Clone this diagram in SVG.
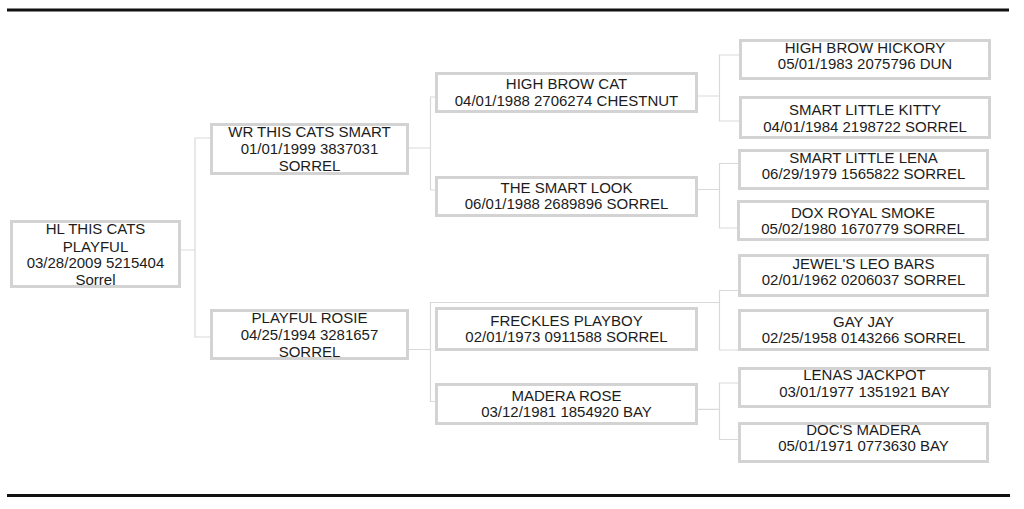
<svg xmlns="http://www.w3.org/2000/svg" width="1024" height="509" viewBox="0 0 1024 509">
<style>
.box{fill:#fff;stroke:#d3d3d3;stroke-width:3}
.t{font-family:"Liberation Sans",Arial,sans-serif;font-size:15px;fill:#1c1c1c;text-anchor:middle}
.c{fill:none;stroke:#d9d9d9;stroke-width:1.2}
.rule{stroke:#111;stroke-width:3}
</style>
<rect width="1024" height="509" fill="#fff"/>
<line class="rule" x1="7" y1="10" x2="1009" y2="10"/>
<line class="rule" x1="7" y1="495.5" x2="1010" y2="495.5"/>
<g id="connectors">
<path class="c" d="M181,250 H195 M210,138 H195 V337 H210"/>
<path class="c" d="M409,148 H430.5 M435,97 H430.5 V190 H435"/>
<path class="c" d="M409,349.5 H430.5 M719.5,302.5 H430.5 V401.5 H435"/>
<path class="c" d="M698,96 H719.5 M739,55 H719.5 V121 H739"/>
<path class="c" d="M698,189.5 H719.5 M738,163.5 H719.5 V228 H737"/>
<path class="c" d="M738,290.5 H719.5 V350 H738"/>
<path class="c" d="M698,409.3 H719.5 M738,383 H719.5 V439.5 H738"/>
</g>
<g id="root">
<rect class="box" x="11.5" y="221.5" width="168" height="65"/>
<text class="t" x="95.5" y="234.3">HL THIS CATS</text>
<text class="t" x="95.5" y="251.7">PLAYFUL</text>
<text class="t" x="95.5" y="268.3">03/28/2009 5215404</text>
<text class="t" x="95.5" y="285">Sorrel</text>
</g>
<g id="sire">
<rect class="box" x="211.5" y="124.5" width="196" height="49"/>
<text class="t" x="309.5" y="136.7">WR THIS CATS SMART</text>
<text class="t" x="309.5" y="154.3">01/01/1999 3837031</text>
<text class="t" x="309.5" y="171">SORREL</text>
</g>
<g id="dam">
<rect class="box" x="211.5" y="310.5" width="196" height="48"/>
<text class="t" x="309.5" y="323.3">PLAYFUL ROSIE</text>
<text class="t" x="309.5" y="340">04/25/1994 3281657</text>
<text class="t" x="309.5" y="356.7">SORREL</text>
</g>
<g id="high-brow-cat">
<rect class="box" x="436.5" y="73.5" width="260" height="38"/>
<text class="t" x="566.5" y="89">HIGH BROW CAT</text>
<text class="t" x="566.5" y="105.7">04/01/1988 2706274 CHESTNUT</text>
</g>
<g id="the-smart-look">
<rect class="box" x="436.5" y="177.5" width="260" height="38"/>
<text class="t" x="566.5" y="192.7">THE SMART LOOK</text>
<text class="t" x="566.5" y="209.3">06/01/1988 2689896 SORREL</text>
</g>
<g id="freckles-playboy">
<rect class="box" x="436.5" y="308.5" width="260" height="41"/>
<text class="t" x="566.5" y="325.7">FRECKLES PLAYBOY</text>
<text class="t" x="566.5" y="342.3">02/01/1973 0911588 SORREL</text>
</g>
<g id="madera-rose">
<rect class="box" x="436.5" y="384.5" width="260" height="39"/>
<text class="t" x="566.5" y="400.7">MADERA ROSE</text>
<text class="t" x="566.5" y="417.3">03/12/1981 1854920 BAY</text>
</g>
<g id="high-brow-hickory">
<rect class="box" x="740.5" y="40.5" width="249" height="38"/>
<text class="t" x="865" y="52.7">HIGH BROW HICKORY</text>
<text class="t" x="865" y="69.3">05/01/1983 2075796 DUN</text>
</g>
<g id="smart-little-kitty">
<rect class="box" x="740.5" y="97.5" width="249" height="40"/>
<text class="t" x="865" y="115">SMART LITTLE KITTY</text>
<text class="t" x="865" y="131.7">04/01/1984 2198722 SORREL</text>
</g>
<g id="smart-little-lena">
<rect class="box" x="739.5" y="150.5" width="248" height="38"/>
<text class="t" x="863.5" y="162.7">SMART LITTLE LENA</text>
<text class="t" x="863.5" y="179.3">06/29/1979 1565822 SORREL</text>
</g>
<g id="dox-royal-smoke">
<rect class="box" x="738.5" y="201.5" width="249" height="38"/>
<text class="t" x="863" y="217.7">DOX ROYAL SMOKE</text>
<text class="t" x="863" y="234">05/02/1980 1670779 SORREL</text>
</g>
<g id="jewels-leo-bars">
<rect class="box" x="739.5" y="255.5" width="248" height="40"/>
<text class="t" x="863.5" y="269">JEWEL'S LEO BARS</text>
<text class="t" x="863.5" y="285">02/01/1962 0206037 SORREL</text>
</g>
<g id="gay-jay">
<rect class="box" x="739.5" y="310.5" width="248" height="39"/>
<text class="t" x="863.5" y="326.7">GAY JAY</text>
<text class="t" x="863.5" y="342.7">02/25/1958 0143266 SORREL</text>
</g>
<g id="lenas-jackpot">
<rect class="box" x="739.5" y="368.5" width="250" height="38"/>
<text class="t" x="864.5" y="380">LENAS JACKPOT</text>
<text class="t" x="864.5" y="396.7">03/01/1977 1351921 BAY</text>
</g>
<g id="docs-madera">
<rect class="box" x="739.5" y="423.5" width="248" height="38"/>
<text class="t" x="863.5" y="435">DOC'S MADERA</text>
<text class="t" x="863.5" y="451">05/01/1971 0773630 BAY</text>
</g>
</svg>
